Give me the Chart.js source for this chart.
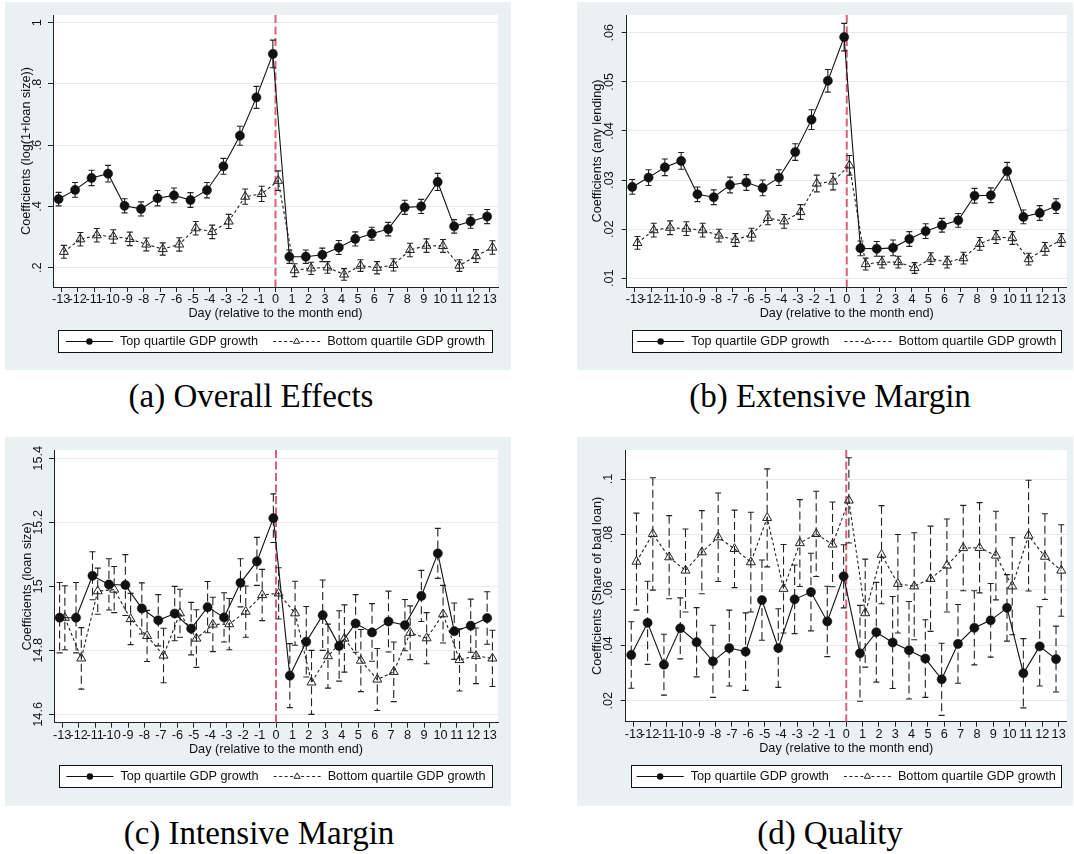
<!DOCTYPE html>
<html>
<head>
<meta charset="utf-8">
<script src="https://cdn.jsdelivr.net/npm/chart.js@4.4.1/dist/chart.umd.min.js"></script>
<style>
  html, body { margin: 0; padding: 0; background: #ffffff; }
  body { width: 1074px; height: 854px; position: relative; overflow: hidden; }
  canvas { position: absolute; display: block; }
  .caption {
    position: absolute;
    font-family: "Liberation Serif", "Times New Roman", serif;
    font-size: 33px; line-height: 33px; color: #000;
    white-space: nowrap; transform: translateX(-50%);
  }
</style>
</head>
<body>
<canvas id="chartA" width="506" height="368" style="left:5px;top:2px"></canvas>
<canvas id="chartB" width="496" height="368" style="left:577px;top:2px"></canvas>
<canvas id="chartC" width="506" height="369" style="left:5px;top:437px"></canvas>
<canvas id="chartD" width="496" height="369" style="left:577px;top:437px"></canvas>

<div class="caption" style="left:251px;top:380px">(a) Overall Effects</div>
<div class="caption" style="left:830px;top:380px">(b) Extensive Margin</div>
<div class="caption" style="left:259px;top:817px">(c) Intensive Margin</div>
<div class="caption" style="left:830px;top:817px">(d) Quality</div>

<script>
// ---- data -------------------------------------------------------------
const days = [-13, -12, -11, -10, -9, -8, -7, -6, -5, -4, -3, -2, -1, 0,
              1, 2, 3, 4, 5, 6, 7, 8, 9, 10, 11, 12, 13];
const seriesNames = ['Top quartile GDP growth', 'Bottom quartile GDP growth'];
const xTitle = 'Day (relative to the month end)';

// (a) overall effects: coefficient and 95% CI half-width
const overallTop   = [0.424, 0.454, 0.493, 0.507, 0.402, 0.392, 0.427, 0.436, 0.421, 0.453, 0.531, 0.631, 0.756, 0.898,
                      0.236, 0.236, 0.242, 0.266, 0.294, 0.311, 0.326, 0.397, 0.400, 0.480, 0.335, 0.351, 0.367];
const overallTopCI = [0.022, 0.024, 0.025, 0.027, 0.023, 0.023, 0.025, 0.024, 0.024, 0.025, 0.026, 0.031, 0.036, 0.045,
                      0.022, 0.022, 0.022, 0.023, 0.023, 0.021, 0.022, 0.023, 0.023, 0.028, 0.022, 0.022, 0.023];
const overallBot   = [0.252, 0.293, 0.306, 0.302, 0.294, 0.276, 0.261, 0.276, 0.329, 0.317, 0.351, 0.432, 0.441, 0.484,
                      0.192, 0.198, 0.201, 0.178, 0.207, 0.200, 0.209, 0.258, 0.272, 0.271, 0.207, 0.238, 0.266];
const overallBotCI = [0.021, 0.022, 0.022, 0.022, 0.022, 0.021, 0.020, 0.022, 0.022, 0.022, 0.023, 0.025, 0.025, 0.032,
                      0.021, 0.020, 0.019, 0.019, 0.019, 0.020, 0.020, 0.022, 0.022, 0.021, 0.019, 0.021, 0.022];

// (b) extensive margin
const extTop   = [0.0286, 0.0305, 0.0326, 0.0339, 0.0271, 0.0265, 0.0290, 0.0295, 0.0284, 0.0305, 0.0357, 0.0423, 0.0502, 0.0591,
                  0.0161, 0.0160, 0.0162, 0.0180, 0.0196, 0.0208, 0.0218, 0.0268, 0.0269, 0.0318, 0.0225, 0.0233, 0.0247];
const extTopCI = [0.0015, 0.0016, 0.0017, 0.0017, 0.0015, 0.0015, 0.0016, 0.0016, 0.0016, 0.0016, 0.0017, 0.0020, 0.0023, 0.0028,
                  0.0015, 0.0015, 0.0016, 0.0015, 0.0015, 0.0014, 0.0014, 0.0015, 0.0015, 0.0018, 0.0014, 0.0015, 0.0015];
const extBot   = [0.0172, 0.0198, 0.0203, 0.0201, 0.0198, 0.0187, 0.0178, 0.0189, 0.0223, 0.0216, 0.0235, 0.0293, 0.0297, 0.0330,
                  0.0129, 0.0133, 0.0133, 0.0121, 0.0140, 0.0133, 0.0141, 0.0170, 0.0184, 0.0182, 0.0139, 0.0160, 0.0178];
const extBotCI = [0.0013, 0.0014, 0.0014, 0.0014, 0.0014, 0.0013, 0.0013, 0.0013, 0.0014, 0.0014, 0.0015, 0.0017, 0.0017, 0.0020,
                  0.0012, 0.0012, 0.0012, 0.0011, 0.0012, 0.0012, 0.0012, 0.0013, 0.0013, 0.0013, 0.0012, 0.0013, 0.0013];

// (c) intensive margin
const intTop   = [14.902, 14.902, 15.033, 15.006, 15.004, 14.931, 14.894, 14.915, 14.868, 14.935, 14.903, 15.011, 15.078, 15.213,
                  14.721, 14.827, 14.910, 14.814, 14.884, 14.856, 14.890, 14.879, 14.970, 15.103, 14.860, 14.877, 14.901];
const intTopCI = [0.110, 0.110, 0.075, 0.080, 0.095, 0.080, 0.080, 0.085, 0.082, 0.080, 0.077, 0.075, 0.075, 0.076,
                  0.100, 0.110, 0.110, 0.110, 0.090, 0.090, 0.095, 0.080, 0.080, 0.078, 0.088, 0.083, 0.082];
const intBot   = [14.902, 14.775, 14.985, 14.990, 14.898, 14.845, 14.784, 14.916, 14.837, 14.881, 14.882, 14.921, 14.973, 14.978,
                  14.916, 14.700, 14.782, 14.837, 14.768, 14.709, 14.733, 14.855, 14.838, 14.913, 14.770, 14.783, 14.775];
const intBotCI = [0.100, 0.096, 0.072, 0.072, 0.080, 0.080, 0.085, 0.075, 0.090, 0.085, 0.080, 0.080, 0.080, 0.080,
                  0.100, 0.100, 0.100, 0.105, 0.097, 0.097, 0.093, 0.084, 0.080, 0.090, 0.097, 0.087, 0.088];

// (d) quality
const qualTop   = [0.0365, 0.0481, 0.0330, 0.0461, 0.0411, 0.0342, 0.0390, 0.0377, 0.0563, 0.0390, 0.0566, 0.0592, 0.0486, 0.0649,
                   0.0371, 0.0447, 0.0410, 0.0382, 0.0352, 0.0277, 0.0405, 0.0463, 0.0490, 0.0535, 0.0299, 0.0396, 0.0350];
const qualTopCI = [0.0120, 0.0150, 0.0110, 0.0110, 0.0125, 0.0130, 0.0137, 0.0140, 0.0145, 0.0142, 0.0124, 0.0140, 0.0127, 0.0114,
                   0.0173, 0.0180, 0.0166, 0.0176, 0.0140, 0.0130, 0.0142, 0.0134, 0.0133, 0.0120, 0.0125, 0.0143, 0.0119];
const qualBot   = [0.0702, 0.0802, 0.0718, 0.0670, 0.0736, 0.0790, 0.0748, 0.0700, 0.0860, 0.0604, 0.0769, 0.0802, 0.0764, 0.0923,
                   0.0516, 0.0727, 0.0622, 0.0613, 0.0640, 0.0688, 0.0751, 0.0752, 0.0724, 0.0613, 0.0796, 0.0720, 0.0670];
const qualBotCI = [0.0175, 0.0203, 0.0150, 0.0150, 0.0150, 0.0160, 0.0140, 0.0180, 0.0177, 0.0160, 0.0157, 0.0154, 0.0153, 0.0154,
                   0.0195, 0.0177, 0.0178, 0.0193, 0.0190, 0.0168, 0.0154, 0.0163, 0.0160, 0.0175, 0.0200, 0.0155, 0.0165];

// y-axis ticks and their printed labels
const yTicksA = [0.2, 0.4, 0.6, 0.8, 1];
const yLabelsA = ['.2', '.4', '.6', '.8', '1'];
const yTicksB = [0.01, 0.02, 0.03, 0.04, 0.05, 0.06];
const yLabelsB = ['.01', '.02', '.03', '.04', '.05', '.06'];
const yTicksC = [14.6, 14.8, 15, 15.2, 15.4];
const yLabelsC = ['14.6', '14.8', '15', '15.2', '15.4'];
const yTicksD = [0.02, 0.04, 0.06, 0.08, 0.1];
const yLabelsD = ['.02', '.04', '.06', '.08', '.1'];

// ---- styling ----------------------------------------------------------
const SANS = '"Liberation Sans", Arial, Helvetica, sans-serif';
const FONT_SIZE = 12.7;
const PANEL_BG = '#eaf1f3';
const GRID = '#e3ebee';
const INK = '#111111';
const SHIFT = 0.16;          // the two groups sit slightly apart around each day

Chart.defaults.font.family = SANS;
Chart.defaults.font.size = FONT_SIZE;
Chart.defaults.color = INK;

// panel background + white plot region
const plotBackground = {
  id: 'plotBackground',
  beforeDraw(chart) {
    const { ctx, chartArea: a } = chart;
    ctx.save();
    ctx.fillStyle = PANEL_BG;
    ctx.fillRect(0, 0, chart.width, chart.height);
    ctx.fillStyle = '#ffffff';
    ctx.fillRect(a.left, a.top, a.right - a.left, a.bottom - a.top);
    ctx.restore();
  }
};

// dashed reference line at the month end (day 0)
const monthEndLine = {
  id: 'monthEndLine',
  beforeDatasetsDraw(chart) {
    const { ctx, chartArea: a, scales: { x } } = chart;
    const px = x.getPixelForValue(0);
    ctx.save();
    ctx.strokeStyle = '#d8607c';
    ctx.lineWidth = 2;
    ctx.setLineDash([8, 3.5]);
    ctx.beginPath();
    ctx.moveTo(px, a.top);
    ctx.lineTo(px, a.bottom);
    ctx.stroke();
    ctx.restore();
  }
};

// capped confidence intervals around every point
const errorBars = {
  id: 'errorBars',
  beforeDatasetsDraw(chart, args, opts) {
    const { ctx, scales: { x, y } } = chart;
    ctx.save();
    ctx.strokeStyle = opts.color;
    ctx.lineWidth = opts.width;
    chart.data.datasets.forEach(ds => {
      if (!ds.ci) return;
      ds.data.forEach((p, i) => {
        const px = x.getPixelForValue(p.x);
        const hi = y.getPixelForValue(p.y + ds.ci[i]);
        const lo = y.getPixelForValue(p.y - ds.ci[i]);
        ctx.setLineDash(opts.dash);
        ctx.beginPath();
        ctx.moveTo(px, hi);
        ctx.lineTo(px, lo);
        ctx.stroke();
        ctx.setLineDash([]);
        ctx.beginPath();
        ctx.moveTo(px - opts.cap, hi); ctx.lineTo(px + opts.cap, hi);
        ctx.moveTo(px - opts.cap, lo); ctx.lineTo(px + opts.cap, lo);
        ctx.stroke();
      });
    });
    ctx.restore();
  }
};

// boxed legend below the axis title
const boxedLegend = {
  id: 'boxedLegend',
  afterDraw(chart, args, opts) {
    const { ctx, chartArea: a } = chart;
    const L = a.left + 5, R = a.right - 5, T = opts.top, B = opts.bottom;
    const cy = (T + B) / 2;
    ctx.save();
    ctx.fillStyle = '#ffffff';
    ctx.fillRect(L, T, R - L, B - T);
    ctx.strokeStyle = INK;
    ctx.lineWidth = 1;
    ctx.strokeRect(Math.round(L) + 0.5, Math.round(T) + 0.5, Math.round(R - L) - 1, Math.round(B - T) - 1);
    ctx.font = FONT_SIZE + 'px ' + SANS;
    ctx.textBaseline = 'middle';
    ctx.textAlign = 'left';
    const sample = 47, gapText = 7, gapItem = 15;
    const sets = chart.data.datasets;
    const widths = sets.map(ds => ctx.measureText(ds.label).width);
    let total = 0;
    widths.forEach((w, k) => { total += sample + gapText + w + (k < widths.length - 1 ? gapItem : 0); });
    let x = (L + R) / 2 - total / 2;
    sets.forEach((ds, k) => {
      ctx.strokeStyle = ds.borderColor;
      ctx.lineWidth = ds.borderWidth;
      ctx.setLineDash(ds.borderDash || []);
      ctx.beginPath();
      ctx.moveTo(x, cy); ctx.lineTo(x + sample, cy);
      ctx.stroke();
      ctx.setLineDash([]);
      const mx = x + sample / 2;
      ctx.lineWidth = 1;
      ctx.strokeStyle = ds.pointBorderColor;
      if (ds.pointStyle === 'circle') {
        ctx.fillStyle = ds.pointBackgroundColor;
        ctx.beginPath(); ctx.arc(mx, cy, 3.2, 0, Math.PI * 2); ctx.fill();
      } else {
        const r = 3.6;
        ctx.beginPath();
        ctx.moveTo(mx, cy - r);
        ctx.lineTo(mx + r * 0.866, cy + r * 0.5);
        ctx.lineTo(mx - r * 0.866, cy + r * 0.5);
        ctx.closePath();
        ctx.fillStyle = '#ffffff';
        ctx.fill();
        ctx.stroke();
      }
      ctx.fillStyle = INK;
      ctx.fillText(ds.label, x + sample + gapText, cy);
      x += sample + gapText + widths[k] + gapItem;
    });
    ctx.restore();
  }
};

function makePanel(canvasId, spec) {
  const datasets = [
    {
      label: seriesNames[0],
      data: days.map((d, i) => ({ x: d - SHIFT, y: spec.top[i] })),
      ci: spec.topCI,
      borderColor: INK, borderWidth: 1.1,
      pointStyle: 'circle', pointRadius: 4.6,
      pointBackgroundColor: INK, pointBorderColor: INK, pointBorderWidth: 0.5,
      tension: 0, fill: false
    },
    {
      label: seriesNames[1],
      data: days.map((d, i) => ({ x: d + SHIFT, y: spec.bot[i] })),
      ci: spec.botCI,
      borderColor: '#222222', borderWidth: 1.1, borderDash: [3, 2.5],
      pointStyle: 'triangle', pointRadius: 5.2,
      pointBackgroundColor: 'rgba(0,0,0,0)', pointBorderColor: '#222222', pointBorderWidth: 1,
      tension: 0, fill: false
    }
  ];

  return new Chart(document.getElementById(canvasId), {
    type: 'line',
    data: { datasets },
    plugins: [plotBackground, monthEndLine, errorBars, boxedLegend],
    options: {
      responsive: false,
      animation: false,
      events: [],
      layout: { padding: { left: 0, right: spec.padRight, top: spec.padTop, bottom: spec.padBottom } },
      plugins: {
        legend: { display: false },
        tooltip: { enabled: false },
        errorBars: { dash: spec.barDash, cap: 3, color: '#222222', width: 1.1 },
        boxedLegend: { top: spec.legendTop, bottom: spec.legendBottom }
      },
      scales: {
        x: {
          type: 'linear',
          min: -13.5, max: 13.5,
          afterBuildTicks: s => { s.ticks = days.map(v => ({ value: v })); },
          afterFit: s => { s.height = 36; s.paddingLeft = 0; s.paddingRight = 0; },
          ticks: {
            autoSkip: false, minRotation: 0, maxRotation: 0, padding: 0,
            color: INK, callback: v => String(v)
          },
          grid: { drawOnChartArea: false, drawTicks: true, tickLength: 5, color: '#222222', tickColor: '#222222' },
          border: { display: true, color: '#222222', width: 1 },
          title: { display: true, text: xTitle, color: INK, padding: { top: 0, bottom: 2 } }
        },
        y: {
          type: 'linear',
          min: spec.yMin, max: spec.yMax,
          afterBuildTicks: s => { s.ticks = spec.yTicks.map(v => ({ value: v })); },
          afterFit: s => { s.width = spec.yWidth; s.paddingTop = 0; s.paddingBottom = 0; },
          ticks: {
            minRotation: 90, maxRotation: 90, crossAlign: 'center', padding: spec.yPad,
            color: INK, callback: (v, i) => spec.yLabels[i]
          },
          grid: { color: GRID, lineWidth: 1, drawTicks: true, tickLength: 5, tickColor: '#222222' },
          border: { display: true, color: '#222222', width: 1 },
          title: { display: true, text: spec.yTitle, color: INK, padding: { top: spec.yTitlePad, bottom: 0 } }
        }
      }
    }
  });
}

makePanel('chartA', {
  top: overallTop, topCI: overallTopCI, bot: overallBot, botCI: overallBotCI,
  yTicks: yTicksA, yLabels: yLabelsA, yMin: 0.137, yMax: 1.025,
  yTitle: 'Coefficients (log(1+loan size))',
  yWidth: 48, yPad: 5.5, yTitlePad: 14,
  padRight: 13, padTop: 13, padBottom: 47,
  barDash: [], legendTop: 328, legendBottom: 351
});

makePanel('chartB', {
  top: extTop, topCI: extTopCI, bot: extBot, botCI: extBotCI,
  yTicks: yTicksB, yLabels: yLabelsB, yMin: 0.00823, yMax: 0.0636,
  yTitle: 'Coefficients (any lending)',
  yWidth: 49.7, yPad: 3.1, yTitlePad: 12.7,
  padRight: 4, padTop: 13, padBottom: 47,
  barDash: [], legendTop: 328, legendBottom: 351
});

makePanel('chartC', {
  top: intTop, topCI: intTopCI, bot: intBot, botCI: intBotCI,
  yTicks: yTicksC, yLabels: yLabelsC, yMin: 14.574, yMax: 15.426,
  yTitle: 'Coefficients (loan size)',
  yWidth: 49, yPad: -2.1, yTitlePad: 14.7,
  padRight: 13, padTop: 13, padBottom: 47.3,
  barDash: [8, 4], legendTop: 328, legendBottom: 351
});

makePanel('chartD', {
  top: qualTop, topCI: qualTopCI, bot: qualBot, botCI: qualBotCI,
  yTicks: yTicksD, yLabels: yLabelsD, yMin: 0.0124, yMax: 0.1105,
  yTitle: 'Coefficients (Share of bad loan)',
  yWidth: 48.7, yPad: 3.1, yTitlePad: 12.7,
  padRight: 3, padTop: 13, padBottom: 48.3,
  barDash: [8, 4], legendTop: 328, legendBottom: 351
});
</script>
</body>
</html>
